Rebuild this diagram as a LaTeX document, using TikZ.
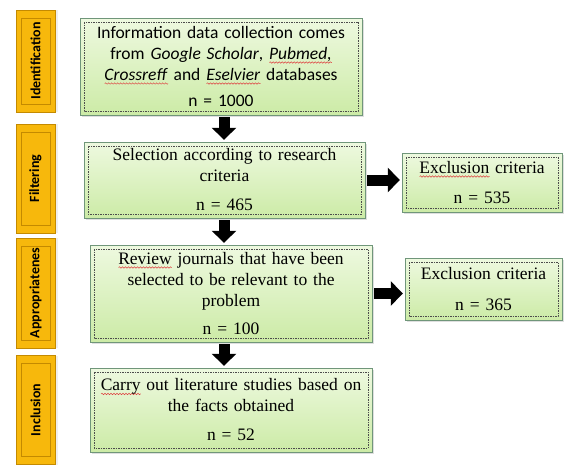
\documentclass[tikz,border=0pt]{standalone}
\usepackage{fontspec}
\setmainfont{Liberation Serif}
\newfontfamily\calfont{Carlito}
\usepackage{tikz}
\usetikzlibrary{arrows.meta,shadows,decorations.pathmorphing}
\definecolor{barcol}{RGB}{247,184,12}
\definecolor{baredge}{RGB}{196,138,0}
\definecolor{boxtop}{RGB}{238,249,224}
\definecolor{boxbot}{RGB}{204,235,166}
\definecolor{boxedge}{RGB}{112,150,122}
\definecolor{spellcol}{RGB}{222,64,64}
\newsavebox{\spellbox}
\newcommand\spellmark[1]{\leavevmode\sbox{\spellbox}{#1}%
  \mbox{\rlap{\tikz[x=1pt,y=1pt,baseline=0pt,line width=0.5pt]
    \draw[spellcol, decorate, decoration={snake, amplitude=0.7pt, segment length=3pt}]
      (0,-3) -- (\the\wd\spellbox,-3);}\usebox{\spellbox}}}

\tikzset{
  stagebar/.style={fill=barcol, draw=baredge, minimum width=39pt, inner sep=0pt,
    drop shadow={shadow xshift=3pt, shadow yshift=0pt, fill=black!12},
    path picture={\draw[baredge, line width=0.7pt]
      ([xshift=5pt,yshift=-8pt]path picture bounding box.north west) rectangle
      ([xshift=-5pt,yshift=8pt]path picture bounding box.south east);}},
  stagelabel/.style={rotate=90, font=\calfont\bfseries\fontsize{14}{16}\selectfont},
  flowbox/.style={draw=boxedge, top color=boxtop, bottom color=boxbot, inner sep=0pt,
    align=center, font=\fontsize{17.5}{21}\selectfont,
    drop shadow={shadow xshift=2pt, shadow yshift=-2pt, fill=black!25},
    path picture={\draw[black!70, dash pattern=on 1.5pt off 1pt, line width=0.5pt]
      ([xshift=4pt,yshift=-4pt]path picture bounding box.north west) rectangle
      ([xshift=-4pt,yshift=4pt]path picture bounding box.south east);}},
  blockarrow/.style={line width=11pt, -{Triangle[width=24pt,length=12pt]},
    shorten <=2pt, shorten >=2pt}
}

\begin{document}
\begin{tikzpicture}[x=1pt,y=-1pt]
  \useasboundingbox (0,0) rectangle (568,466);
  % Stage bars: left column
  \node[stagebar, minimum height=102pt] (barI) at (35.5,61) {};
  \node[stagelabel] at (barI) {Identification};
  \node[stagebar, minimum height=109pt] (barF) at (35.5,178.5) {};
  \node[stagelabel] at (barF) {Filtering};
  \node[stagebar, minimum height=110pt] (barA) at (35.5,293) {};
  \node[stagelabel] at (barA) {Appropriatenes};
  \node[stagebar, minimum height=109pt] (barN) at (35.5,410) {};
  \node[stagelabel] at (barN) {Inclusion};
  % Flow boxes
  \node[flowbox, text width=276pt, minimum width=282pt, minimum height=97pt,
    font=\calfont\fontsize{17.5}{21}\selectfont] (ident) at (221,66.5)
    {Information data collection comes\\
     from \textit{Google Scholar}, \spellmark{\textit{Pubmed,}}\\
     \spellmark{\textit{Crossreff}} and \spellmark{\textit{Eselvier}} databases\\[5pt]
     n = 1000};
  \node[flowbox, text width=275pt, minimum width=281pt, minimum height=76pt] (filter) at (224.5,180)
    {Selection according to research\\ criteria\\[8pt] n = 465};
  \node[flowbox, text width=276pt, minimum width=282pt, minimum height=97pt] (approp) at (231,293.5)
    {\spellmark{Review} journals that have been\\ selected to be relevant to the\\ problem\\[7pt] n = 100};
  \node[flowbox, text width=276pt, minimum width=282pt, minimum height=84pt] (incl) at (231,410)
    {\spellmark{Carry} out literature studies based on\\ the facts obtained\\[8pt] n = 52};
  \node[flowbox, text width=154pt, minimum width=160pt, minimum height=59pt] (excl1) at (482,182.5)
    {\spellmark{Exclusion} criteria\\[9pt] n = 535};
  \node[flowbox, text width=151pt, minimum width=157pt, minimum height=62pt] (excl2) at (483.5,289)
    {Exclusion criteria\\[10pt] n = 365};
  % Block arrows
  \draw[blockarrow] ([xshift=3pt]ident.south) -- ([xshift=-0.5pt]filter.north);
  \draw[blockarrow] ([xshift=-0.5pt]filter.south) -- ([xshift=-7pt]approp.north);
  \draw[blockarrow] ([xshift=-7pt]approp.south) -- ([xshift=-7pt]incl.north);
  \draw[blockarrow] (filter.east) -- (filter.east -| excl1.west);
  \draw[blockarrow] (approp.east) -- (approp.east -| excl2.west);
\end{tikzpicture}
\end{document}
